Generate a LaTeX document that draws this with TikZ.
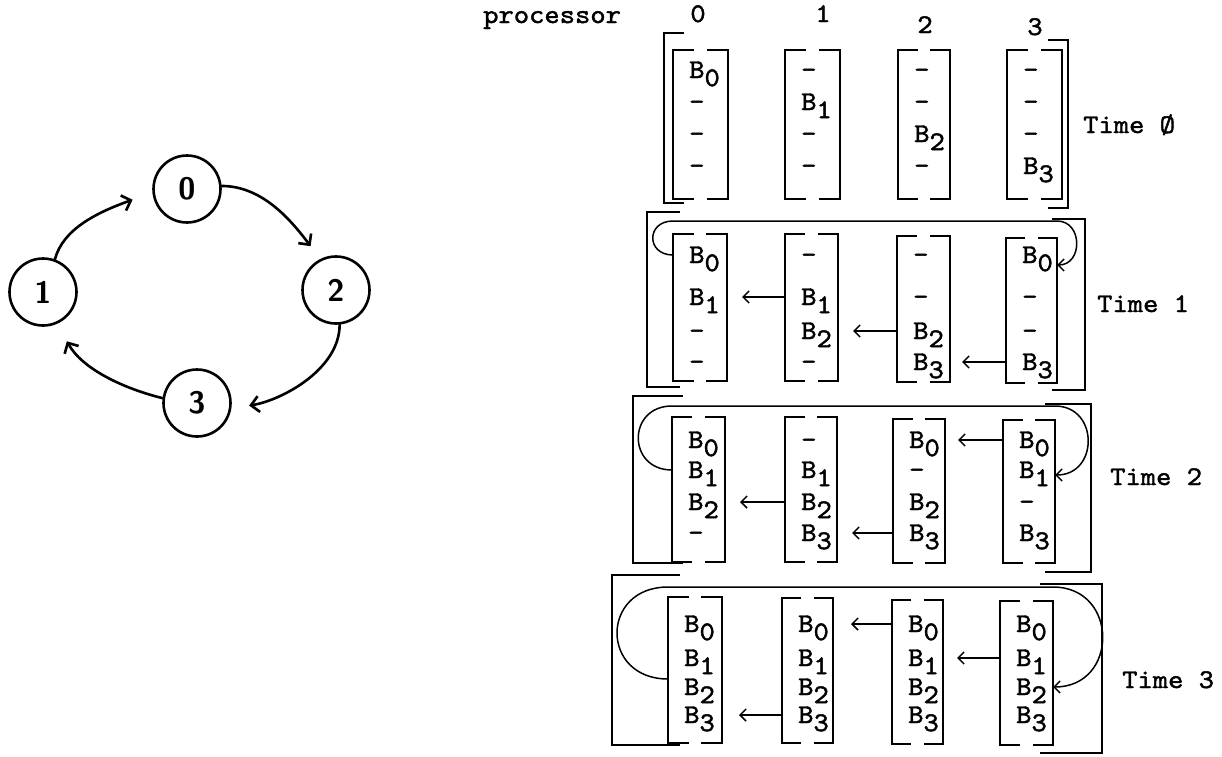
\documentclass[tikz,border=0pt]{standalone}
\usepackage{fontspec}
\newfontfamily\tw{lmmono10-regular.otf}[FakeStretch=1.08,FakeBold=1.6]
\usetikzlibrary{arrows.meta,calc}
\newcommand\Bk[1]{B\raisebox{-0.3em}{#1}}
\tikzset{
 ring/.style={circle,draw,line width=2.6pt,minimum size=67pt,inner sep=0pt,font=\sffamily\bfseries\fontsize{31}{31}\selectfont},
 ringarrow/.style={line width=2.6pt,line cap=round,-{Straight Barb[length=8pt,width=16pt]}},
 colbox/.style={rectangle,inner sep=0pt,outer sep=0pt},
 brk/.style={line width=2pt},
 cell/.style={anchor=base west,inner sep=0pt,font=\tw\fontsize{27}{27}\selectfont},
 lab/.style={anchor=base west,inner sep=0pt,font=\tw\fontsize{27}{27}\selectfont},
 arr/.style={line width=1.5pt,-{Straight Barb[length=6pt,width=12pt]}},
 loopline/.style={line width=1.5pt,-{Straight Barb[length=6pt,width=12pt]}},
}
% column box: name, x0, y0, x1, y1
\newcommand\mkcol[5]{%
 \node[colbox,minimum width={#4-#2},minimum height={#5-#3}] (#1) at ({(#2+#4)/2},{(#3+#5)/2}) {};
 \draw[brk] ($(#1.north west)!0.38!(#1.north east)$) -- (#1.north west) -- (#1.south west) -- ($(#1.south west)!0.38!(#1.south east)$);
 \draw[brk] ($(#1.north east)!0.38!(#1.north west)$) -- (#1.north east) -- (#1.south east) -- ($(#1.south east)!0.38!(#1.south west)$);
}
% column contents: column name, block, four entries
\newcommand\fillcol[6]{%
 \node[cell] (#1r1) at ($(#1.west |- #2y1)+(16,8)$) {#3};
 \node[cell] (#1r2) at ($(#1.west |- #2y2)+(16,8)$) {#4};
 \node[cell] (#1r3) at ($(#1.west |- #2y3)+(16,8)$) {#5};
 \node[cell] (#1r4) at ($(#1.west |- #2y4)+(16,8)$) {#6};
}
\newcommand\outerL[4]{\draw[brk] (#4,#2) -- (#1,#2) -- (#1,#3) -- (#4,#3);}
\newcommand\outerR[4]{\draw[brk] (#4,#2) -- (#1,#2) -- (#1,#3) -- (#4,#3);}
\newcommand\rows[5]{%
 \coordinate (#1y1) at (0,#2); \coordinate (#1y2) at (0,#3);
 \coordinate (#1y3) at (0,#4); \coordinate (#1y4) at (0,#5);
}
\begin{document}
\begin{tikzpicture}[x=1pt,y=-1pt]
\useasboundingbox (0,0) rectangle (1222,756);
% ---------- ring of processors ----------
\node[ring] (n0) at (187,189) {0};
\node[ring] (n1) at (43,292) {1};
\node[ring] (n2) at (336,290) {2};
\node[ring] (n3) at (197,403) {3};
\draw[ringarrow,shorten >=21pt] (n1.70) .. controls +(8,-30) and +(-56,20) .. (n0.186);
\draw[ringarrow,shorten >=16pt] (n0.5) .. controls +(40,0) and +(-30,-40) .. (n2.117);
\draw[ringarrow,shorten >=18pt] (n2.276) .. controls +(0,45) and +(50,-8) .. (n3.351);
\draw[ringarrow,shorten >=20pt] (n3.172) .. controls +(-40,-10) and +(25,45) .. (n1.294);
% ---------- header ----------
\node[lab] (proc) at (483,23) {processor};
\node[lab,anchor=base] (p0) at (698,22) {0};
\node[lab,anchor=base] (p1) at (823,22) {1};
\node[lab,anchor=base] (p2) at (925,33) {2};
\node[lab,anchor=base] (p3) at (1035,35) {3};
% ---------- Time 0 ----------
\outerL{664}{33}{203}{684}
\outerR{1068}{40}{208}{1048}
\rows{t0}{70}{102}{134}{166}
\mkcol{t0c0}{673}{50}{728}{199}
\mkcol{t0c1}{785}{50}{840}{199}
\mkcol{t0c2}{898}{50}{950}{199}
\mkcol{t0c3}{1007}{50}{1062}{199}
\fillcol{t0c0}{t0}{\Bk0}{-}{-}{-}
\fillcol{t0c1}{t0}{-}{\Bk1}{-}{-}
\fillcol{t0c2}{t0}{-}{-}{\Bk2}{-}
\fillcol{t0c3}{t0}{-}{-}{-}{\Bk3}
\node[lab] (time0) at (1083,133) {Time \O};
% ---------- Time 1 ----------
\outerL{647}{212}{387}{680}
\outerR{1085}{219}{390}{1052}
\rows{t1}{255}{297}{331}{362}
\mkcol{t1c0}{673}{234}{727}{381}
\mkcol{t1c1}{785}{234}{838}{381}
\mkcol{t1c2}{897}{236}{950}{382}
\mkcol{t1c3}{1006}{238}{1057}{383}
\fillcol{t1c0}{t1}{\Bk0}{\Bk1}{-}{-}
\fillcol{t1c1}{t1}{-}{\Bk1}{\Bk2}{-}
\fillcol{t1c2}{t1}{-}{-}{\Bk2}{\Bk3}
\fillcol{t1c3}{t1}{\Bk0}{-}{-}{\Bk3}
\coordinate (t1top) at (0,221);
\draw[loopline] (t1c0.west |- t1y1) .. controls +(-27,0) and +(-27,0) .. (t1c0.west |- t1top)
  -- (t1c3.east |- t1top) .. controls +(26,0) and +(26,0) .. ($(t1c3.east |- t1y1)+(0,10)$);
\draw[arr] (t1c1.west |- t1y2) -- ($(t1c0.east |- t1y2)+(15,0)$);
\draw[arr] (t1c2.west |- t1y3) -- ($(t1c1.east |- t1y3)+(15,0)$);
\draw[arr] (t1c3.west |- t1y4) -- ($(t1c2.east |- t1y4)+(12,0)$);
\node[lab] (time1) at (1097,312) {Time 1};
% ---------- Time 2 ----------
\outerL{633}{396}{563}{683}
\outerR{1091}{404}{572}{1045}
\rows{t2}{440}{470}{502}{533}
\mkcol{t2c0}{672}{417}{725}{562}
\mkcol{t2c1}{785}{417}{837}{562}
\mkcol{t2c2}{893}{419}{945}{563}
\mkcol{t2c3}{1003}{420}{1055}{563}
\fillcol{t2c0}{t2}{\Bk0}{\Bk1}{\Bk2}{-}
\fillcol{t2c1}{t2}{-}{\Bk1}{\Bk2}{\Bk3}
\fillcol{t2c2}{t2}{\Bk0}{-}{\Bk2}{\Bk3}
\fillcol{t2c3}{t2}{\Bk0}{\Bk1}{-}{\Bk3}
\coordinate (t2top) at (0,406);
\draw[loopline] (t2c0.west |- t2y2) .. controls +(-45,0) and +(-45,0) .. (t2c0.west |- t2top)
  -- (t2c3.east |- t2top) .. controls +(44,0) and +(44,0) .. ($(t2c3.east |- t2y2)+(0,5)$);
\draw[arr] (t2c1.west |- t2y3) -- ($(t2c0.east |- t2y3)+(15,0)$);
\draw[arr] (t2c2.west |- t2y4) -- ($(t2c1.east |- t2y4)+(15,0)$);
\draw[arr] (t2c3.west |- t2y1) -- ($(t2c2.east |- t2y1)+(13,0)$);
\node[lab] (time2) at (1110,485) {Time 2};
% ---------- Time 3 ----------
\outerL{612}{575}{745}{680}
\outerR{1102}{584}{753}{1040}
\rows{t3}{624}{658}{687}{715}
\mkcol{t3c0}{668}{597}{722}{743}
\mkcol{t3c1}{782}{598}{833}{743}
\mkcol{t3c2}{892}{600}{943}{744}
\mkcol{t3c3}{1000}{601}{1053}{745}
\fillcol{t3c0}{t3}{\Bk0}{\Bk1}{\Bk2}{\Bk3}
\fillcol{t3c1}{t3}{\Bk0}{\Bk1}{\Bk2}{\Bk3}
\fillcol{t3c2}{t3}{\Bk0}{\Bk1}{\Bk2}{\Bk3}
\fillcol{t3c3}{t3}{\Bk0}{\Bk1}{\Bk2}{\Bk3}
\coordinate (t3top) at (0,587);
\draw[loopline] ($(t3c0.west |- t3y3)+(0,-8)$) .. controls +(-68,0) and +(-68,0) .. (t3c0.west |- t3top)
  -- (t3c3.east |- t3top) .. controls +(66,0) and +(66,0) .. (t3c3.east |- t3y3);
\draw[arr] (t3c1.west |- t3y4) -- ($(t3c0.east |- t3y4)+(17,0)$);
\draw[arr] (t3c2.west |- t3y1) -- ($(t3c1.east |- t3y1)+(18,0)$);
\draw[arr] (t3c3.west |- t3y2) -- ($(t3c2.east |- t3y2)+(14,0)$);
\node[lab] (time3) at (1122,688) {Time 3};
\end{tikzpicture}
\end{document}
